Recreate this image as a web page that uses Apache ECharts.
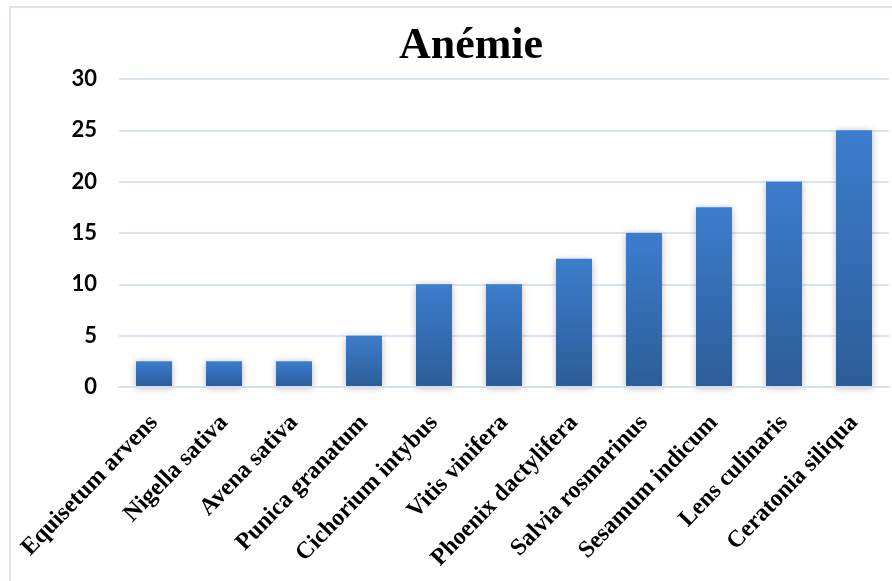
<!DOCTYPE html>
<html>
<head>
<meta charset="utf-8">
<title>Anémie</title>
<script src="https://cdn.jsdelivr.net/npm/echarts@6/dist/echarts.min.js"></script>
<style>
  html, body { margin: 0; padding: 0; background: #ffffff; }
  #chart { width: 892px; height: 581px; }
</style>
</head>
<body>
<div id="chart"></div>
<script>
// Plant species cited for anaemia and their citation percentages
const species = [
  'Equisetum arvens', 'Nigella sativa', 'Avena sativa', 'Punica granatum',
  'Cichorium intybus', 'Vitis vinifera', 'Phoenix dactylifera',
  'Salvia rosmarinus', 'Sesamum indicum', 'Lens culinaris', 'Ceratonia siliqua'
];
const percentages = [2.5, 2.5, 2.5, 5, 10, 10, 12.5, 15, 17.5, 20, 25];
const yTicks = [0, 5, 10, 15, 20, 25, 30];

const chart = echarts.init(document.getElementById('chart'), null, { renderer: 'canvas' });

const frameColor = '#d9e3f1';

chart.setOption({
  backgroundColor: '#ffffff',
  animation: false,
  graphic: [{
    type: 'rect',
    silent: true,
    z: -1,
    shape: { x: 10, y: 7, width: 1200, height: 1000 },
    style: { fill: 'none', stroke: frameColor, lineWidth: 2 }
  }],
  title: {
    text: 'Anémie',
    left: 466,
    top: 20,
    textAlign: 'center',
    textStyle: {
      fontFamily: '"Liberation Serif", "Times New Roman", serif',
      fontWeight: 'bold',
      fontSize: 44,
      color: '#000000'
    }
  },
  grid: { left: 119, right: 3, top: 79, bottom: 194, containLabel: false },
  xAxis: {
    type: 'category',
    data: species,
    z: 5,
    axisLine: { show: true, lineStyle: { color: '#d3dff0', width: 2 } },
    axisTick: { show: false },
    axisLabel: {
      rotate: 46,
      interval: 0,
      margin: 32,
      fontFamily: '"Liberation Serif", "Times New Roman", serif',
      fontWeight: 'bold',
      fontSize: 24,
      color: '#000000'
    }
  },
  yAxis: {
    type: 'value',
    min: yTicks[0],
    max: yTicks[yTicks.length - 1],
    interval: yTicks[1] - yTicks[0],
    axisLine: { show: false },
    axisTick: { show: false },
    splitLine: { lineStyle: { color: '#dae4f2', width: 2 } },
    axisLabel: {
      margin: 22,
      padding: [4, 0, 0, 0],
      fontFamily: 'Lato, "Liberation Sans", sans-serif',
      fontWeight: 'bold',
      fontSize: 22,
      color: '#000000'
    }
  },
  series: [{
    type: 'bar',
    data: percentages,
    barWidth: 36,
    itemStyle: {
      color: new echarts.graphic.LinearGradient(0, 0, 0, 1, [
        { offset: 0, color: '#3c7dcd' },
        { offset: 1, color: '#2d5d98' }
      ]),
      shadowColor: 'rgba(0, 0, 0, 0.28)',
      shadowBlur: 7,
      shadowOffsetX: 0,
      shadowOffsetY: 1
    }
  }]
});
</script>
</body>
</html>
